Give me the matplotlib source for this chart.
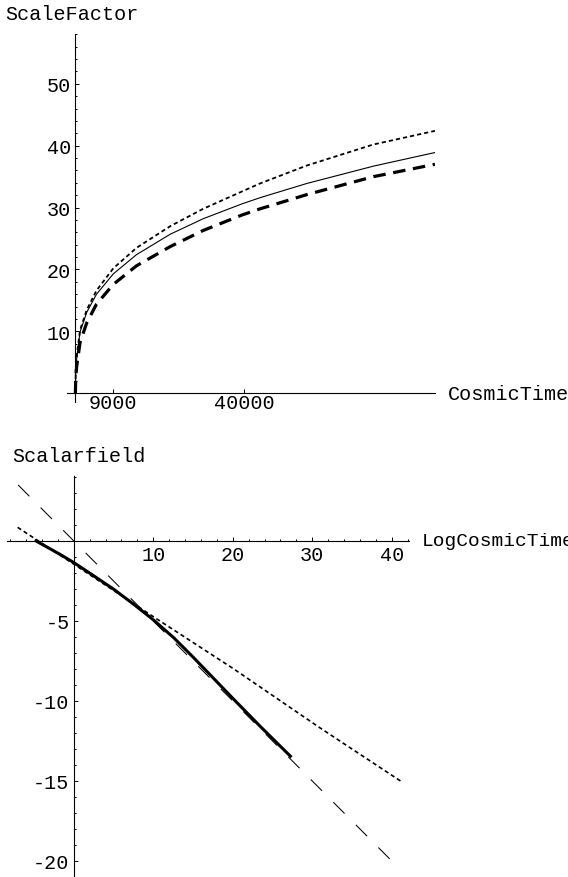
import matplotlib
matplotlib.use("Agg")
import matplotlib.pyplot as plt
from matplotlib.ticker import MultipleLocator, FuncFormatter

plt.rcParams['font.family'] = ['Liberation Mono', 'DejaVu Sans Mono']
plt.rcParams['font.size'] = 14.5
plt.rcParams['axes.unicode_minus'] = False
plt.rcParams['lines.scale_dashes'] = False

# --- top panel: scale factor vs cosmic time
cosmic_time = [0, 80, 300, 1100, 2700, 5000, 9000, 14500, 22500, 30300,
               39500, 43800, 54900, 70700, 85300]
scale_dotted = [0, 3.6, 6.0, 10.2, 13.5, 16.6, 20.2, 23.5, 27.0, 29.8,
                32.6, 33.9, 36.8, 40.2, 42.4]
scale_solid = [0, 3.4, 5.6, 9.9, 13.1, 16.0, 19.3, 22.4, 25.7, 28.2,
               30.6, 31.6, 33.9, 36.7, 38.9]
scale_dashed = [0, 2.6, 4.3, 8.2, 11.4, 14.4, 17.6, 20.6, 23.7, 26.3,
                28.8, 29.8, 32.1, 35.0, 37.0]
top_xticks = [9000, 40000]

# --- bottom panel: scalar field vs log cosmic time
asym_x = [-7.0, 40.0]
asym_y = [3.5, -20.0]
dotted_x = [-7.06, 0, 10.06, 20.13, 31.03, 41.1]
dotted_y = [0.85, -1.45, -4.75, -8.0, -11.7, -15.0]
field_x = [-4.75, -1.68, 0, 2.52, 5.03, 7.55, 10.06, 12.58, 15.09, 17.61,
           20.13, 23.48, 27.25]
field_y = [0.0, -0.85, -1.35, -2.18, -3.02, -3.96, -4.95, -6.05, -7.3,
           -8.6, -9.9, -11.6, -13.45]

W, H = 568, 878
fig = plt.figure(figsize=(W / 100, H / 100), dpi=100)


def mathematica_axes(ax):
    for side in ['top', 'right']:
        ax.spines[side].set_visible(False)
    ax.spines['left'].set_position(('data', 0))
    ax.spines['bottom'].set_position(('data', 0))
    for side in ['left', 'bottom']:
        ax.spines[side].set_linewidth(0.8)
    ax.tick_params(which='both', direction='in', width=0.7, pad=3)
    ax.tick_params(which='major', length=3)
    ax.tick_params(which='minor', length=1.6)
    ax.patch.set_visible(False)


hide_zero = FuncFormatter(lambda v, p: '' if abs(v) < 1e-9 else f'{v:g}')

# top panel
ax1 = fig.add_axes([66.7 / W, 1 - 403 / H, (435 - 66.7) / W, (403 - 35) / H])
ax1.set_xlim(-2064, 85300)
ax1.set_ylim(-1.41, 58.05)
mathematica_axes(ax1)
ax1.plot(cosmic_time, scale_solid, color='black', lw=0.8)
ax1.plot(cosmic_time, scale_dotted, color='black', lw=1.3, dashes=(3, 2.2))
ax1.plot(cosmic_time, scale_dashed, color='black', lw=2.3, dashes=(9, 5.5))
ax1.set_xticks(top_xticks)
ax1.xaxis.set_major_formatter(FuncFormatter(lambda v, p: f'{v:.0f}'))
ax1.tick_params(axis='x', pad=0)
ax1.yaxis.set_major_locator(MultipleLocator(10))
ax1.yaxis.set_minor_locator(MultipleLocator(2))
ax1.yaxis.set_major_formatter(hide_zero)
ax1.annotate('CosmicTime', xy=(1, 0), xycoords=('axes fraction', 'data'),
             xytext=(9.4, 0), textcoords='offset points', va='center')
fig.text(5 / W, 1 - 20 / H, 'ScaleFactor', va='baseline')

# bottom panel
ax2 = fig.add_axes([7.3 / W, 0, (408.7 - 7.3) / W, (878 - 477.3) / H])
ax2.set_xlim(-8.36, 42.13)
ax2.set_ylim(-21.0, 4.04)
mathematica_axes(ax2)
ax2.plot(asym_x, asym_y, color='black', lw=0.75, dashes=(11.5, 11.5))
ax2.plot(dotted_x, dotted_y, color='black', lw=1.2, dashes=(3, 2.2))
ax2.plot(field_x, field_y, color='black', lw=2.2)
ax2.xaxis.set_major_locator(MultipleLocator(10))
ax2.xaxis.set_minor_locator(MultipleLocator(2))
ax2.yaxis.set_major_locator(MultipleLocator(5))
ax2.yaxis.set_minor_locator(MultipleLocator(1))
ax2.xaxis.set_major_formatter(hide_zero)
ax2.yaxis.set_major_formatter(hide_zero)
ax2.tick_params(axis='x', pad=3)
ax2.annotate('LogCosmicTime', xy=(1, 0), xycoords=('axes fraction', 'data'),
             xytext=(9.5, 0), textcoords='offset points', va='center',
             fontsize=14)
fig.text(12 / W, 1 - 462 / H, 'Scalarfield', va='baseline')

fig.savefig('out.png', dpi=100)
